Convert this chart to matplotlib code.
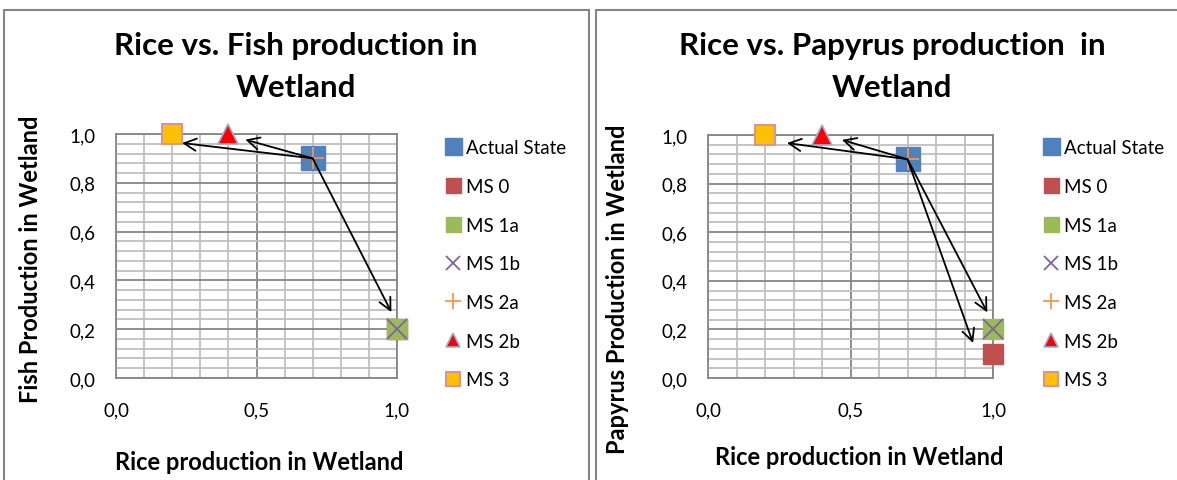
import matplotlib
matplotlib.use("Agg")
import matplotlib.pyplot as plt
from matplotlib.patches import Rectangle
from matplotlib.ticker import MultipleLocator, FixedLocator

plt.rcParams['font.family'] = ['Lato', 'DejaVu Sans']

# ---------------- data ----------------
series_names = ["Actual State", "MS 0", "MS 1a", "MS 1b", "MS 2a", "MS 2b", "MS 3"]

fish_x = [0.7, 1.0, 1.0, 1.0, 0.7, 0.4, 0.2]
fish_y = [0.9, 0.2, 0.2, 0.2, 0.9, 1.0, 1.0]

papyrus_x = [0.7, 1.0, 1.0, 1.0, 0.7, 0.4, 0.2]
papyrus_y = [0.9, 0.1, 0.2, 0.2, 0.9, 1.0, 1.0]

# arrows: start point and end points
fish_arrow_start = (0.7, 0.9)
fish_arrow_ends_x = [0.235, 0.46, 0.98]
fish_arrow_ends_y = [0.963, 0.977, 0.27]

papyrus_arrow_start = (0.7, 0.9)
papyrus_arrow_ends_x = [0.277, 0.47, 0.98, 0.93]
papyrus_arrow_ends_y = [0.967, 0.98, 0.27, 0.144]

x_ticks = [0.0, 0.5, 1.0]
x_tick_labels = ["0,0", "0,5", "1,0"]
y_ticks = [0.0, 0.2, 0.4, 0.6, 0.8, 1.0]
y_tick_labels = ["0,0", "0,2", "0,4", "0,6", "0,8", "1,0"]

# ---------------- styles ----------------
styles = [
    dict(marker="s", ms=17, mfc="#4F81BD", mec="#4F81BD", mew=1),
    dict(marker="s", ms=15, mfc="#C0504D", mec="#C0504D", mew=1),
    dict(marker="s", ms=15, mfc="#9BBB59", mec="#9BBB59", mew=1),
    dict(marker="x", ms=14, mfc="none", mec="#8064A2", mew=1.3),
    dict(marker="+", ms=16, mfc="none", mec="#F79646", mew=1.3),
    dict(marker="^", ms=14, mfc="#FF0000", mec="#95B3D7", mew=1.2),
    dict(marker="s", ms=14, mfc="#FFC000", mec="#D99594", mew=1.5),
]

W, H = 1177, 481
fig = plt.figure(figsize=(W / 100, H / 100), dpi=100)

# panel borders
fig.patches.append(Rectangle((4 / W, -0.1), (589 - 4) / W, 1.1 - 11 / H,
                             transform=fig.transFigure, fill=False,
                             edgecolor="#868686", linewidth=1.5))
fig.patches.append(Rectangle((596 / W, -0.1), 0.5, 1.1 - 11 / H,
                             transform=fig.transFigure, fill=False,
                             edgecolor="#868686", linewidth=1.5))


def make_chart(ax, xs, ys, arrow_start, ends_x, ends_y, title, title_x,
               ylabel, ylabel_coords, xlabel_coords, legend_x):
    ax.set_xlim(0, 1.0)
    ax.set_ylim(0, 1.0)
    ax.xaxis.set_major_locator(FixedLocator(x_ticks))
    ax.xaxis.set_minor_locator(MultipleLocator(0.1))
    ax.yaxis.set_major_locator(FixedLocator(y_ticks))
    ax.yaxis.set_minor_locator(MultipleLocator(0.04))
    ax.set_xticklabels(x_tick_labels)
    ax.set_yticklabels(y_tick_labels)
    ax.tick_params(which="both", length=0)
    ax.tick_params(axis="x", pad=17, labelsize=13.5)
    ax.tick_params(axis="y", pad=15, labelsize=13.5)
    ax.grid(which="minor", color="#BFBFBF", linewidth=1.3)
    ax.grid(which="major", color="#868686", linewidth=1.3)
    ax.set_axisbelow(True)
    for s in ax.spines.values():
        s.set_color("#868686")
        s.set_linewidth(1.3)

    handles = []
    for name, x, y, st in zip(series_names, xs, ys, styles):
        h, = ax.plot([x], [y], linestyle="none", label=name, clip_on=False,
                     zorder=3, **st)
        handles.append(h)

    for ex, ey in zip(ends_x, ends_y):
        ax.annotate("", xy=(ex, ey), xytext=arrow_start,
                    arrowprops=dict(arrowstyle="->", color="black", lw=1.3,
                                    mutation_scale=22, shrinkA=0, shrinkB=0),
                    zorder=4, annotation_clip=False)

    ax.set_xlabel("Rice production in Wetland", fontsize=17,
                  fontweight="bold")
    ax.set_ylabel(ylabel, fontsize=17, fontweight="bold")
    ax.xaxis.set_label_coords(*xlabel_coords)
    ax.yaxis.set_label_coords(*ylabel_coords)

    fig.legend(handles=handles, loc="upper left",
               bbox_to_anchor=(legend_x / W, 1 - 140 / H),
               frameon=False, fontsize=13.5, markerscale=0.72,
               labelspacing=1.16, handlelength=0.9, handletextpad=0.25,
               borderaxespad=0, borderpad=0)
    fig.text(title_x / W, 1 - 67 / H, title, ha="center", va="center",
             fontsize=22.5, fontweight="bold", linespacing=1.65)


ax1 = fig.add_axes([116 / W, (H - 379) / H, 281 / W, 244 / H])
make_chart(ax1, fish_x, fish_y, fish_arrow_start, fish_arrow_ends_x,
           fish_arrow_ends_y, "Rice vs. Fish production in\nWetland", 296,
           "Fish Production in Wetland", (-0.263, 0.49), (0.51, -0.295), 444.6)

ax2 = fig.add_axes([708 / W, (H - 379) / H, 285 / W, 243 / H])
make_chart(ax2, papyrus_x, papyrus_y, papyrus_arrow_start, papyrus_arrow_ends_x,
           papyrus_arrow_ends_y, "Rice vs. Papyrus production  in\nWetland", 892,
           "Papyrus Production in Wetland", (-0.277, 0.37), (0.53, -0.276), 1042.6)

fig.savefig("out.png", dpi=100)
